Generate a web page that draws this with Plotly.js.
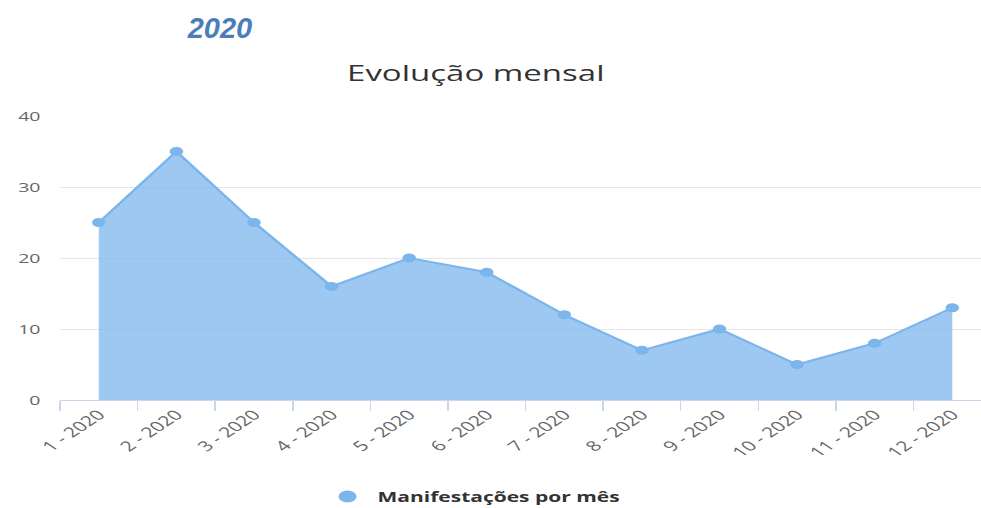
<!DOCTYPE html>
<html>
<head>
<meta charset="utf-8">
<script src="https://cdn.plot.ly/plotly-3.0.1.min.js"></script>
<style>
html,body{margin:0;padding:0;background:#fff;}
#wrap{position:relative;width:981px;height:508px;overflow:hidden;background:#fff;}
#chart{position:absolute;left:0;top:0;width:654px;height:508px;transform:scaleX(1.5);transform-origin:0 0;}
#year{position:absolute;left:160px;width:120px;top:10px;height:36px;line-height:36px;text-align:center;
  font-family:"Liberation Sans",Arial,sans-serif;font-weight:bold;font-style:italic;font-size:29px;color:#4a7ebb;}
</style>
</head>
<body>
<div id="wrap">
  <div id="chart"></div>
  <div id="year"></div>
</div>
<script>
const months = ["1 - 2020","2 - 2020","3 - 2020","4 - 2020","5 - 2020","6 - 2020","7 - 2020","8 - 2020","9 - 2020","10 - 2020","11 - 2020","12 - 2020"];
const values = [25, 35, 25, 16, 20, 18, 12, 7, 10, 5, 8, 13];
const seriesName = "Manifestações por mês";
const yearLabel = "2020";
const chartTitle = "Evolução mensal";

document.getElementById("year").textContent = yearLabel;

const traces = [
  {
    x: months, y: values, type: "scatter", mode: "lines+markers",
    fill: "tozeroy", fillcolor: "rgba(124,181,236,0.75)",
    line: {color: "#7cb5ec", width: 2},
    marker: {color: "#7cb5ec", size: 9},
    showlegend: false, hoverinfo: "x+y"
  },
  {
    x: [null], y: [null], type: "scatter", mode: "markers",
    name: "<b>" + seriesName + "</b>",
    marker: {color: "#7cb5ec", size: 13}
  }
];

const layout = {
  width: 654, height: 508,
  margin: {l: 40, r: 0, t: 116, b: 108, pad: 0, autoexpand: false},
  paper_bgcolor: "rgba(0,0,0,0)", plot_bgcolor: "rgba(0,0,0,0)",
  font: {family: "Open Sans, sans-serif", color: "#666", size: 12},
  title: {text: chartTitle, x: 0.485, xanchor: "center", y: 1 - 73/508, yanchor: "middle",
          font: {family: "Open Sans, sans-serif", size: 22, color: "#333"}},
  xaxis: {
    type: "category", range: [-0.5, 11.37], tickson: "boundaries", automargin: false,
    ticks: "outside", ticklen: 10, tickcolor: "#ccd6eb", tickwidth: 1,
    showline: true, linecolor: "#ccd6eb", linewidth: 1,
    showgrid: false, tickangle: -45, zeroline: false,
    tickfont: {size: 14, color: "#666"}, fixedrange: true
  },
  yaxis: {
    range: [0, 40], dtick: 10, tick0: 0, showgrid: true, gridcolor: "#e6e6e6", automargin: false,
    zeroline: false, showline: false, ticks: "", ticklabelstandoff: 12,
    tickfont: {size: 13, color: "#666"}, fixedrange: true
  },
  legend: {orientation: "h", xref: "container", yref: "container",
           x: 0.482, xanchor: "center", y: (508 - 497) / 508, yanchor: "middle",
           font: {size: 14, color: "#333"}, itemsizing: "constant"},
  hovermode: "closest"
};

Plotly.newPlot("chart", traces, layout, {displayModeBar: false});
</script>
</body>
</html>
